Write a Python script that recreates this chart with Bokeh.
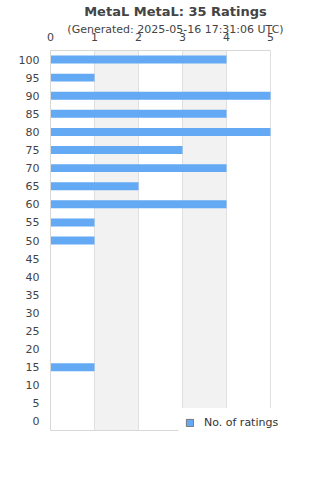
from bokeh.plotting import figure
from bokeh.models import (FactorRange, Range1d, FixedTicker, Title, Legend, LegendItem,
                          ColumnDataSource, LinearAxis)
from bokeh.embed import file_html
from bokeh.resources import INLINE

title_text = "MetaL MetaL: 35 Ratings"
subtitle_text = "(Generated: 2025-05-16 17:31:06 UTC)"
ratings = ["100", "95", "90", "85", "80", "75", "70", "65", "60", "55", "50",
           "45", "40", "35", "30", "25", "20", "15", "10", "5", "0"]
counts = [4, 1, 5, 4, 5, 3, 4, 2, 4, 1, 1, 0, 0, 0, 0, 0, 0, 1, 0, 0, 0]
x_ticks = [0, 1, 2, 3, 4, 5]
series_name = "No. of ratings"

BAR = "#63a9f3"
TXT = "#444444"
LINE = "#d8d8d8"
FONT = "DejaVu Sans"

# frame spans 50..300 px; the value axis 0..5 occupies 50..270 px (44 px per unit)
FRAME_W = 250
PX_PER_UNIT = 44.0

p = figure(width=320, height=480, y_range=FactorRange(factors=ratings[::-1]),
           x_range=Range1d(0, FRAME_W / PX_PER_UNIT), x_axis_location="above",
           output_backend="svg", toolbar_location=None,
           min_border_left=50, min_border_right=320 - 50 - FRAME_W,
           min_border_top=0, min_border_bottom=50)
p.background_fill_color = "white"
p.border_fill_color = "white"
p.outline_line_color = None

# main title (outermost), spacer, subtitle
p.title.text = title_text
p.title.align = "center"
p.title.vertical_align = "top"
p.title.standoff = 6
p.title.text_font = FONT
p.title.text_font_size = "13px"
p.title.text_font_style = "bold"
p.title.text_color = TXT
p.add_layout(Title(text=subtitle_text, align="center", vertical_align="bottom",
                   standoff=-12, text_font=FONT, text_font_size="11px",
                   text_font_style="normal", text_color=TXT), "above")
p.add_layout(Title(text=" ", align="center", standoff=0, text_font=FONT,
                   text_font_size="1px", text_color="white"), "above")

src = ColumnDataSource(dict(y=ratings, right=counts))
p.hbar(y="y", left=0, right="right", height=0.44, source=src,
       fill_color=BAR, line_color=None)

# legend swatch: same series with an undefined left edge, so nothing is drawn in
# the plot and only the legend shows its (bordered) swatch
leg_r = p.hbar(y="y", left=float("nan"), right="right", height=0.44, source=src,
               fill_color=BAR, line_color="#777777", line_width=1)

# top value axis
xa = p.xaxis[0]
xa.ticker = FixedTicker(ticks=x_ticks)
xa.bounds = (x_ticks[0], x_ticks[-1])
xa.axis_line_color = LINE
xa.major_tick_line_color = None
xa.major_tick_out = 0
xa.major_tick_in = 0
xa.minor_tick_line_color = None
xa.major_label_standoff = 10
xa.major_label_text_font = FONT
xa.major_label_text_font_size = "11px"
xa.major_label_text_color = TXT

# bottom border line (no labels)
bx = LinearAxis(ticker=FixedTicker(ticks=[]), bounds=(0, 2.9), axis_line_color=LINE,
                major_tick_line_color=None, minor_tick_line_color=None,
                major_tick_out=0, major_tick_in=0, major_label_text_font_size="0px")
p.add_layout(bx, "below")

ya = p.yaxis[0]
ya.axis_line_color = LINE
ya.major_tick_line_color = None
ya.major_tick_out = 0
ya.major_tick_in = 0
ya.minor_tick_line_color = None
ya.major_label_standoff = 11
ya.major_label_text_font = FONT
ya.major_label_text_font_size = "11px"
ya.major_label_text_color = TXT

# grid lines at the ticks; alternate bands [1,2] and [3,4]
# (a closing tick just past the last one keeps the band from running past 5)
p.xgrid.ticker = FixedTicker(ticks=x_ticks + [x_ticks[-1] + 1e-6])
p.xgrid.grid_line_color = "#e0e0e0"
p.xgrid.band_fill_color = "#f2f2f2"
p.xgrid.band_fill_alpha = 1.0
p.ygrid.grid_line_color = None

legend = Legend(items=[LegendItem(label=series_name, renderers=[leg_r])],
                location=(128, -6), margin=0, padding=6, glyph_width=9, glyph_height=9,
                label_height=14, label_standoff=10, label_text_font=FONT,
                label_text_font_size="11px", label_text_color="#333333",
                border_line_color="white", border_line_width=1,
                background_fill_color="white", background_fill_alpha=1.0)
p.add_layout(legend, "center")

open("out.html", "w").write(file_html(p, INLINE))
